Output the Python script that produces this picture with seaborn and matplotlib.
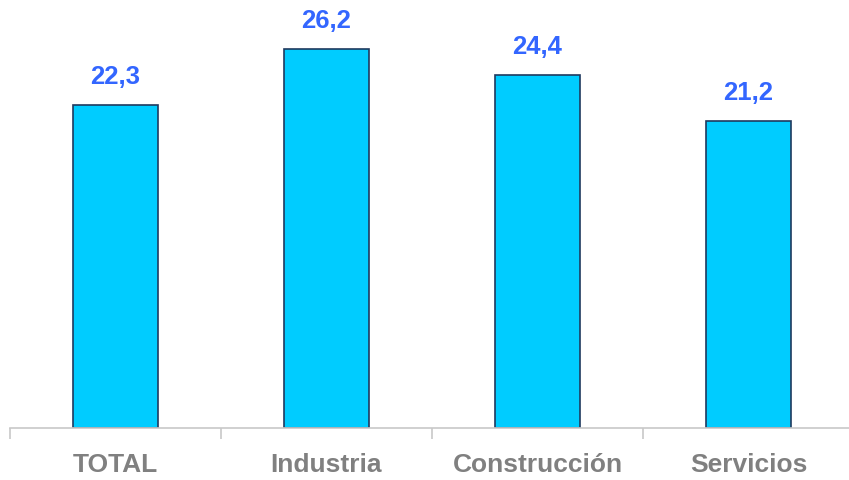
import matplotlib
matplotlib.use('Agg')
import matplotlib.pyplot as plt
import numpy as np
import pandas as pd
import seaborn as sns
from matplotlib.ticker import FixedLocator

categories = ['TOTAL', 'Industria', 'Construcción', 'Servicios']
values = [22.3, 26.2, 24.4, 21.2]

sns.set_style('white')
plt.rcParams['font.family'] = ['Liberation Sans', 'DejaVu Sans']

df = pd.DataFrame({'cat': categories, 'val': values})

fig = plt.figure(figsize=(8.49, 4.81), dpi=100)
ax = fig.add_axes([10 / 849, 52 / 481, 844 / 849, 429 / 481])

sns.barplot(data=df, x='cat', y='val', ax=ax, color='#00CCFF',
            saturation=1, width=0.4, edgecolor='#1F3A5F', linewidth=1.2)

ax.set_xlim(-0.5, 3.5)
ax.set_ylim(0, 29.63)
ax.set_xlabel('')
ax.set_ylabel('')
ax.set_yticks([])

for i, v in enumerate(values):
    ax.annotate(f'{v:.1f}'.replace('.', ','), (i, v), xytext=(0, 12),
                textcoords='offset points', ha='center', va='bottom',
                fontsize=18.5, fontweight='bold', color='#3366FF')

for side in ['top', 'right', 'left']:
    ax.spines[side].set_visible(False)
ax.spines['bottom'].set_color('#C8C8C8')
ax.spines['bottom'].set_linewidth(1.2)

ax.xaxis.set_minor_locator(FixedLocator(np.arange(-0.5, 4.0, 1.0)))
ax.tick_params(axis='x', which='major', length=0, pad=17.5,
               labelsize=19, labelcolor='#808080')
ax.tick_params(axis='x', which='minor', length=8, width=1.2,
               color='#C8C8C8', bottom=True)
for lbl in ax.get_xticklabels():
    lbl.set_fontweight('bold')

fig.savefig('out.png', dpi=100)
